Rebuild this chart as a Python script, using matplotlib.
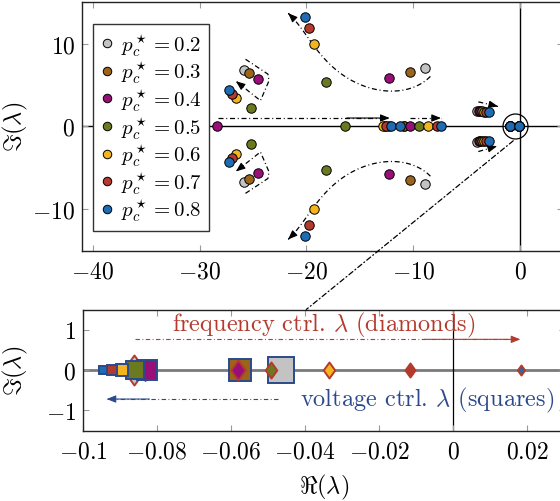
import numpy as np
import matplotlib
matplotlib.use("Agg")
import matplotlib.pyplot as plt
from matplotlib.path import Path
from matplotlib.patches import ConnectionPatch
from matplotlib.ticker import FuncFormatter, FixedLocator

plt.rcParams.update({
    "font.family": "cmr10",
    "mathtext.fontset": "cm",
    "axes.formatter.use_mathtext": True,
    "axes.unicode_minus": True,
})

# ---- data ---------------------------------------------------------------
p_levels = [0.2, 0.3, 0.4, 0.5, 0.6, 0.7, 0.8]
p_colors = ["#c3c3c3", "#9c6418", "#990f78", "#6c7a1f", "#f4b41c", "#b43a2d", "#1f6cb2"]

# complex-conjugate eigenvalue pairs (upper half given, mirrored below)
branch_re = [-8.9, -10.3, -12.3, -18.2, -19.3, -19.8, -20.1]
branch_im = [7.0, 6.5, 5.8, 5.3, 10.0, 11.9, 13.2]
cluster_re = [-25.86, -25.33, -24.5, -25.2, -26.6, -26.95, -27.2]
cluster_im = [6.78, 6.39, 5.66, 2.17, 3.37, 3.86, 4.37]
slow_re = [-4.0, -3.85, -3.7, -3.55, -3.4, -3.2, -2.9]
slow_im = [1.85, 1.83, 1.82, 1.8, 1.78, 1.75, 1.72]

# real eigenvalues
real_a = [-12.3, -12.6, -28.35, -16.4, -12.87, -12.5, -12.09]
real_b = [-10.9, -10.84, -10.28, -9.41, -8.63, -7.79, -7.41]
real_extra = [np.nan, np.nan, np.nan, np.nan, np.nan, np.nan, -11.21]
origin_a = [-0.93, -0.93, -0.93, -0.93, -0.93, -0.93, -0.93]
origin_b = [-0.06, -0.06, -0.06, -0.06, -0.06, -0.06, -0.06]

# zoomed critical eigenvalue: voltage control (squares), frequency control (diamonds)
volt_re = [-0.0466, -0.0576, -0.0826, -0.0859, -0.0895, -0.0921, -0.0945]
freq_re = [-0.0862, -0.0832, -0.058, -0.0493, -0.0337, -0.0118, 0.0183]

# tick positions
top_xticks = [-40, -30, -20, -10, 0]
top_yticks = [-10, 0, 10]
bot_xticks = [-0.1, -0.08, -0.06, -0.04, -0.02, 0, 0.02]
bot_yticks = [-1, 0, 1]

# trend guides drawn on the upper panel
trend_up_re = [-8.41, -9.97, -12.31, -14.64, -16.82, -18.69, -20.25, -21.5, -21.65]
trend_up_im = [5.99, 4.78, 4.22, 4.78, 6.47, 8.88, 11.29, 13.3, 13.7]
loop_re = [-25.7, -23.6, -23.5, -24.3, -26.6]
loop_im = [8.1, 6.3, 5.5, 3.1, 5.45]

# ---- styles -------------------------------------------------------------
sq_size_px = [28, 24, 22, 19, 14, 12, 9]
dm_size_px = [32, 23, 22, 18, 18, 16, 12]
navy = "#2b4a8c"
crimson = "#b43a2d"
px2pt = 0.72
dashdot = (0, (4.0, 2.2, 0.8, 2.2))

W, H = 560, 502
fig = plt.figure(figsize=(W / 100, H / 100), dpi=100)

def axes_px(left, right, top, bottom):
    return fig.add_axes([left / W, (H - bottom) / H, (right - left) / W, (bottom - top) / H])

ax1 = axes_px(82.1, 562.7, 3.1, 251.5)
ax2 = axes_px(82.9, 564.5, 310.5, 431.5)

FS = 17
LFS = 15
fmt = FuncFormatter(lambda v, _: "$%s$" % ("%g" % v))

for ax in (ax1, ax2):
    ax.tick_params(direction="in", length=4, width=0.8, color="#9a9a9a",
                   top=True, right=True, labelsize=FS)
    ax.tick_params(axis="x", pad=7)
    ax.tick_params(axis="y", pad=5)
    for s in ax.spines.values():
        s.set_linewidth(1.0)
        s.set_color("#222222")
    ax.xaxis.set_major_formatter(fmt)
    ax.yaxis.set_major_formatter(fmt)

# ---- upper panel --------------------------------------------------------
ax1.set_xlim(-41, 4)
ax1.set_ylim(-15, 15)
ax1.xaxis.set_major_locator(FixedLocator(top_xticks))
ax1.yaxis.set_major_locator(FixedLocator(top_yticks))
ax1.axhline(0, color="black", lw=1.0, zorder=1)
ax1.axvline(0, color="black", lw=1.0, zorder=1)

def arrow_head(ax, tail, tip, color="black", zorder=4, hw=0.22, hl=0.55):
    ax.annotate("", xy=tip, xytext=tail,
                arrowprops=dict(arrowstyle="-|>,head_length=%g,head_width=%g" % (hl, hw),
                                color=color, lw=0.8, shrinkA=0, shrinkB=0),
                zorder=zorder)

def guide(ax, xs, ys, color="black", lw=0.9):
    ax.plot(xs, ys, color=color, lw=lw, linestyle=dashdot, zorder=2)
    x0, y0 = xs[-2], ys[-2]
    x1, y1 = xs[-1], ys[-1]
    t = 0.25
    arrow_head(ax, (x1 - t * (x1 - x0), y1 - t * (y1 - y0)), (x1, y1), color=color)

def smooth(xs, ys, n=80):
    xs = np.asarray(xs, float)
    ys = np.asarray(ys, float)
    d = np.r_[0, np.cumsum(np.hypot(np.diff(xs), np.diff(ys)))]
    t = np.linspace(0, d[-1], n)
    cx = np.polyfit(d, xs, 4)
    cy = np.polyfit(d, ys, 4)
    return np.polyval(cx, t), np.polyval(cy, t)

# curved trend of the fast branch (upper and lower)
sx, sy = smooth(trend_up_re, trend_up_im)
guide(ax1, list(sx), list(sy))
guide(ax1, list(sx), list(-sy))

# bracket loops near the left cluster
guide(ax1, loop_re, loop_im)
guide(ax1, loop_re, [-v for v in loop_im])

# horizontal guides above the real axis
guide(ax1, [-28.3, -12.2], [1.0, 1.0])
guide(ax1, [-10.3, -7.4], [1.0, 1.0])
# short guides near the slow pair
guide(ax1, [-3.9, -2.05], [2.95, 2.4])
guide(ax1, [-3.9, -2.15], [-3.05, -2.4])

mk = dict(marker="o", ms=6.8, mec="black", mew=0.7, linestyle="none", zorder=5)
for i, (p, c) in enumerate(zip(p_levels, p_colors)):
    xs = [branch_re[i], branch_re[i], cluster_re[i], cluster_re[i],
          slow_re[i], slow_re[i], real_a[i], real_b[i], real_extra[i],
          origin_a[i], origin_b[i]]
    ys = [branch_im[i], -branch_im[i], cluster_im[i], -cluster_im[i],
          slow_im[i], -slow_im[i], 0, 0, 0, 0, 0]
    ax1.plot(xs, ys, mfc=c, label=r"$p_c^\star = %g$" % p, **mk)

# ring around the eigenvalues near the origin
ax1.plot([-0.45], [0], marker="o", ms=18, mfc="none", mec="black", mew=0.9,
         linestyle="none", zorder=6)

leg = ax1.legend(loc="upper left", bbox_to_anchor=(0.0227, 0.912), borderaxespad=0,
                 fontsize=LFS, frameon=True, fancybox=False, framealpha=1,
                 edgecolor="#333333", handlelength=0.6, handletextpad=0.4,
                 labelspacing=0.06, borderpad=0.35, markerscale=0.9)
leg.get_frame().set_linewidth(1.0)
leg.set_zorder(10)

ax1.set_ylabel(r"$\Im(\lambda)$", fontsize=FS + 0.5, va="center")
ax1.yaxis.set_label_coords(-0.139, 0.5)

# ---- lower panel --------------------------------------------------------
ax2.set_xlim(-0.1, 0.03)
ax2.set_ylim(-1.5, 1.5)
ax2.xaxis.set_major_locator(FixedLocator(bot_xticks))
ax2.yaxis.set_major_locator(FixedLocator(bot_yticks))
ax2.axhline(0, color="#7a7a7a", lw=2.0, zorder=1)
ax2.axvline(0, color="black", lw=0.9, zorder=1)

diamond = Path([(0, 0.5), (0.36, 0), (0, -0.5), (-0.36, 0), (0, 0.5)],
               [Path.MOVETO, Path.LINETO, Path.LINETO, Path.LINETO, Path.CLOSEPOLY])

z = 3
for i, c in enumerate(p_colors):
    ax2.plot([volt_re[i]], [0], marker="s", ms=sq_size_px[i] * px2pt - 1.4,
             mfc=c, mec=navy, mew=1.4, linestyle="none", zorder=z)
    ax2.plot([freq_re[i]], [0], marker=diamond, ms=dm_size_px[i] * px2pt - 1.4,
             mfc=c, mec=crimson, mew=1.4, linestyle="none", zorder=z + 1)
    z += 2

guide(ax2, [-0.0859, 0.0181], [0.76, 0.76], color=crimson, lw=0.8)
guide(ax2, [-0.0473, -0.0936], [-0.72, -0.72], color=navy, lw=0.8)
ax2.text(-0.035, 1.12, r"frequency ctrl. $\lambda$ (diamonds)", color=crimson,
         fontsize=17.5, ha="center", va="center")
ax2.text(-0.0415, -0.72, r"voltage ctrl. $\lambda$ (squares)", color=navy,
         fontsize=17.5, ha="left", va="center")

ax2.set_ylabel(r"$\Im(\lambda)$", fontsize=FS + 0.5, va="center")
ax2.yaxis.set_label_coords(-0.141, 0.5)
ax2.set_xlabel(r"$\Re(\lambda)$", fontsize=FS + 0.5, va="center")
ax2.xaxis.set_label_coords(0.5, -0.465)

# zoom link from the ring to the lower panel
con = ConnectionPatch(xyA=(-0.63, -1.75), coordsA=ax1.transData,
                      xyB=(-0.0397, 1.5), coordsB=ax2.transData,
                      color="black", lw=0.9, linestyle=dashdot)
fig.add_artist(con)

fig.savefig("out.png", dpi=100)
